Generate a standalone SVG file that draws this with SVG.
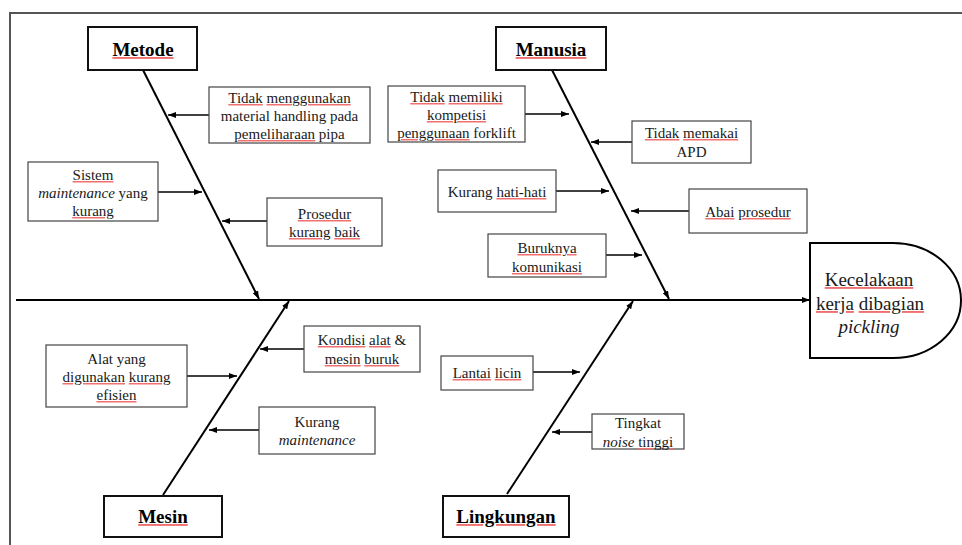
<svg xmlns="http://www.w3.org/2000/svg" width="962" height="545" viewBox="0 0 962 545">
<defs>
<marker id="ah" markerWidth="8" markerHeight="6" refX="8" refY="3" orient="auto" markerUnits="userSpaceOnUse">
<path d="M0,0 L8,3 L0,6 z" fill="#000"/>
</marker>
<style>
text{font-family:"Liberation Serif","Times New Roman",serif;fill:#1a1a1a;font-size:15px;text-anchor:middle}
.cat{font-size:19px;font-weight:bold;fill:#000}
.res{font-size:19px}
.it{font-style:italic}
.sp{fill:#f07070;text-decoration:underline}
.k{fill:#1a1a1a}
.cat .k{fill:#000}
.cbox{fill:#fff;stroke:#111;stroke-width:2}
.box{fill:#fff;stroke:#444;stroke-width:1.2}
.bone{stroke:#000;stroke-width:2;fill:none}
.arr{stroke:#000;stroke-width:1.6;fill:none;marker-end:url(#ah)}
</style>
</defs>
<rect width="962" height="545" fill="#fff"/>
<path d="M10,545 V13 H962" fill="none" stroke="#555" stroke-width="2"/>

<g id="connectors">
<line class="bone" x1="16" y1="300" x2="810" y2="300" marker-end="url(#ah)"/>
<line class="bone" x1="143" y1="70" x2="259" y2="299" marker-end="url(#ah)"/>
<line class="bone" x1="552" y1="70" x2="669" y2="299" marker-end="url(#ah)"/>
<line class="bone" x1="163" y1="495" x2="289" y2="301" marker-end="url(#ah)"/>
<line class="bone" x1="507" y1="494" x2="633" y2="301" marker-end="url(#ah)"/>
<line class="arr" x1="209" y1="115" x2="168" y2="115"/>
<line class="arr" x1="158" y1="192" x2="202" y2="192"/>
<line class="arr" x1="267" y1="221" x2="222" y2="221"/>
<line class="arr" x1="525" y1="114" x2="569" y2="114"/>
<line class="arr" x1="632" y1="142" x2="591" y2="142"/>
<line class="arr" x1="556" y1="191" x2="609" y2="191"/>
<line class="arr" x1="689" y1="211" x2="631" y2="211"/>
<line class="arr" x1="606" y1="255" x2="642" y2="255"/>
<line class="arr" x1="304" y1="349" x2="260" y2="349"/>
<line class="arr" x1="187" y1="376" x2="237" y2="376"/>
<line class="arr" x1="259" y1="430" x2="209" y2="430"/>
<line class="arr" x1="533" y1="372" x2="580" y2="372"/>
<line class="arr" x1="592" y1="432" x2="552" y2="432"/>
</g>

<g id="metode">
<rect class="cbox" x="88" y="27" width="109" height="43"/>
<text class="cat" x="143" y="56"><tspan class="sp"><tspan class="k">Metode</tspan></tspan></text>
</g>
<g id="manusia">
<rect class="cbox" x="496" y="27" width="110" height="43"/>
<text class="cat" x="551" y="56"><tspan class="sp"><tspan class="k">Manusia</tspan></tspan></text>
</g>
<g id="mesin">
<rect class="cbox" x="104" y="496" width="118" height="41"/>
<text class="cat" x="163" y="523"><tspan class="sp"><tspan class="k">Mesin</tspan></tspan></text>
</g>
<g id="lingkungan">
<rect class="cbox" x="443" y="496" width="126" height="41"/>
<text class="cat" x="506" y="523"><tspan class="sp"><tspan class="k">Lingkungan</tspan></tspan></text>
</g>

<g id="result">
<path d="M810,243 H893 A68,57.5 0 0 1 893,358 H810 Z" fill="#fff" stroke="#000" stroke-width="2"/>
<text class="res" x="869" y="286"><tspan class="sp"><tspan class="k">Kecelakaan</tspan></tspan></text>
<text class="res" x="870" y="310"><tspan class="sp"><tspan class="k">kerja</tspan></tspan> <tspan class="sp"><tspan class="k">dibagian</tspan></tspan></text>
<text class="res it" x="869" y="333">pickling</text>
</g>

<g id="m1">
<rect class="box" x="209" y="87" width="161" height="56"/>
<text x="289.5" y="103"><tspan class="sp"><tspan class="k">Tidak</tspan></tspan> <tspan class="sp"><tspan class="k">menggunakan</tspan></tspan></text>
<text x="289.5" y="121">material handling pada</text>
<text x="289.5" y="139"><tspan class="sp"><tspan class="k">pemeliharaan</tspan></tspan> pipa</text>
</g>
<g id="m2">
<rect class="box" x="28" y="162" width="130" height="59"/>
<text x="93" y="180"><tspan class="sp"><tspan class="k">Sistem</tspan></tspan></text>
<text x="93" y="198"><tspan class="it">maintenance</tspan> yang</text>
<text x="93" y="216"><tspan class="sp"><tspan class="k">kurang</tspan></tspan></text>
</g>
<g id="m3">
<rect class="box" x="267" y="198" width="115" height="48"/>
<text x="324.5" y="219"><tspan class="sp"><tspan class="k">Prosedur</tspan></tspan></text>
<text x="324.5" y="237"><tspan class="sp"><tspan class="k">kurang</tspan></tspan> <tspan class="sp"><tspan class="k">baik</tspan></tspan></text>
</g>

<g id="h1">
<rect class="box" x="388" y="86" width="137" height="56"/>
<text x="456.5" y="102"><tspan class="sp"><tspan class="k">Tidak</tspan></tspan> <tspan class="sp"><tspan class="k">memiliki</tspan></tspan></text>
<text x="456.5" y="120"><tspan class="sp"><tspan class="k">kompetisi</tspan></tspan></text>
<text x="456.5" y="138"><tspan class="sp"><tspan class="k">penggunaan</tspan></tspan> forklift</text>
</g>
<g id="h2">
<rect class="box" x="632" y="121" width="119" height="42"/>
<text x="691.5" y="138"><tspan class="sp"><tspan class="k">Tidak</tspan></tspan> <tspan class="sp"><tspan class="k">memakai</tspan></tspan></text>
<text x="691.5" y="157">APD</text>
</g>
<g id="h3">
<rect class="box" x="438" y="170" width="118" height="42"/>
<text x="497" y="197">Kurang <tspan class="sp"><tspan class="k">hati-hati</tspan></tspan></text>
</g>
<g id="h4">
<rect class="box" x="689" y="189" width="118" height="44"/>
<text x="748" y="217"><tspan class="sp"><tspan class="k">Abai</tspan></tspan> <tspan class="sp"><tspan class="k">prosedur</tspan></tspan></text>
</g>
<g id="h5">
<rect class="box" x="488" y="234" width="118" height="43"/>
<text x="547" y="253"><tspan class="sp"><tspan class="k">Buruknya</tspan></tspan></text>
<text x="547" y="272"><tspan class="sp"><tspan class="k">komunikasi</tspan></tspan></text>
</g>

<g id="e1">
<rect class="box" x="304" y="326" width="116" height="46"/>
<text x="362" y="345"><tspan class="sp"><tspan class="k">Kondisi</tspan></tspan> <tspan class="sp"><tspan class="k">alat</tspan></tspan> &amp;</text>
<text x="362" y="364"><tspan class="sp"><tspan class="k">mesin</tspan></tspan> <tspan class="sp"><tspan class="k">buruk</tspan></tspan></text>
</g>
<g id="e2">
<rect class="box" x="46" y="345" width="141" height="62"/>
<text x="116.5" y="364">Alat yang</text>
<text x="116.5" y="382"><tspan class="sp"><tspan class="k">digunakan</tspan></tspan> <tspan class="sp"><tspan class="k">kurang</tspan></tspan></text>
<text x="116.5" y="400"><tspan class="sp"><tspan class="k">efisien</tspan></tspan></text>
</g>
<g id="e3">
<rect class="box" x="259" y="407" width="116" height="47"/>
<text x="317" y="427">Kurang</text>
<text x="317" y="445" class="it">maintenance</text>
</g>

<g id="l1">
<rect class="box" x="441" y="356" width="92" height="34"/>
<text x="487" y="378"><tspan class="sp"><tspan class="k">Lantai</tspan></tspan> <tspan class="sp"><tspan class="k">licin</tspan></tspan></text>
</g>
<g id="l2">
<rect class="box" x="592" y="414" width="92" height="35"/>
<text x="638" y="428">Tingkat</text>
<text x="638" y="447"><tspan class="it">noise</tspan> <tspan class="sp"><tspan class="k">tinggi</tspan></tspan></text>
</g>
</svg>
